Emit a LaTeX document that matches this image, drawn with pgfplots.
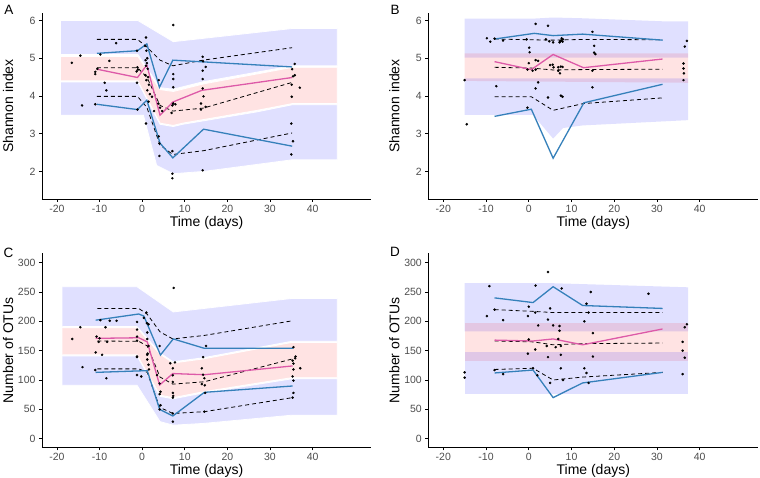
\documentclass[border=0pt]{standalone}
\usepackage{fontspec}
\setmainfont{Liberation Sans}
\usepackage{pgfplots}
\pgfplotsset{compat=1.18}
\definecolor{tickgray}{HTML}{4D4D4D}
\definecolor{obsblue}{HTML}{3580BA}
\definecolor{obspink}{HTML}{DD5AA8}
\pgfplotsset{
  vpc/.style={
    scale only axis, anchor=south west,
    axis x line=bottom, axis y line=left,
    axis line style={-, line width=0.7pt, black},
    tick style={black, line width=0.6pt},
    major tick length=3pt, tick align=outside,
    /pgf/number format/assume math mode=true,
    xmin=-23.5, xmax=53.7,
    xtick={-20,-10,0,10,20,30,40},
    xticklabels={-20,-10,0,10,20,30,40},
    ticklabel style={font=\fontsize{10.5}{12}\selectfont, text=tickgray},
    xticklabel style={inner sep=1pt, yshift=-2pt},
    label style={font=\fontsize{14}{16}\selectfont},
    xlabel={Time (days)},
    clip=true,
  },
  blueband/.style={draw=white, line width=0.8pt, fill=blue, fill opacity=0.12},
  pinkband/.style={draw=white, line width=0.8pt, fill=red, fill opacity=0.11},
  blueband2/.style={draw=none, fill=blue, fill opacity=0.12},
  pinkband2/.style={draw=none, fill=red, fill opacity=0.11},
  obsb/.style={obsblue, line width=1.3pt},
  obsp/.style={obspink, line width=1.3pt},
  pred/.style={black, line width=0.8pt, dash pattern=on 4pt off 3pt},
  pts/.style={only marks, mark=*, mark size=1.05pt, black},
}
\begin{document}
\begin{tikzpicture}
\path[use as bounding box] (0,0) rectangle (760pt,478pt);

% ---------------- A ----------------
\begin{axis}[vpc, at={(42pt,279pt)}, width=329pt, height=186pt,
  ymin=1.27, ymax=6.2, ytick={2,3,4,5,6}, yticklabels={2,3,4,5,6},
  ylabel={Shannon index},
  ylabel style={at={(axis description cs:-0.103,0.5)}, anchor=center},
  xlabel style={at={(axis description cs:0.5,-0.09)}, anchor=north, inner sep=0pt}]
\addplot[blueband] coordinates {(-19,6.0)(-1,6.0)(7.3,5.44)(35.3,5.79)(45.8,5.79)(45.8,4.80)(35.3,4.80)(14.4,4.38)(7.3,4.18)(4.2,4.22)(-1,5.1)(-19,5.1)};
\addplot[pinkband] coordinates {(-19,5.05)(-1,5.05)(4.2,4.17)(7.3,4.12)(14.4,4.32)(35.3,4.76)(45.8,4.76)(45.8,3.80)(35.3,3.80)(27,3.62)(9.5,3.28)(7.3,3.22)(4.2,3.28)(-1,4.4)(-19,4.4)};
\addplot[blueband] coordinates {(-19,4.37)(-1,4.37)(4.2,3.25)(7.3,3.19)(9.5,3.25)(27,3.58)(35.3,3.77)(45.8,3.77)(45.8,2.31)(35.3,2.31)(14.4,2.0)(7.3,1.94)(3.4,2.16)(0.3,3.49)(-19,3.49)};
\addplot[pred] coordinates {(-10.6,5.5)(-1.1,5.5)(1.1,5.3)(4.2,4.95)(7.2,4.8)(14.3,4.95)(35.2,5.28)};
\addplot[pred] coordinates {(-10.6,4.75)(-1.1,4.75)(1.1,4.5)(4.2,3.75)(7.2,3.6)(14.4,3.68)(35.2,4.36)};
\addplot[pred] coordinates {(-10.6,3.99)(-1.1,3.99)(1.1,3.7)(4.2,2.7)(7.2,2.45)(14.4,2.55)(35.2,3.02)};
\addplot[obsb] coordinates {(-10.6,5.13)(-1.1,5.2)(1.1,5.38)(4.05,4.23)(7.2,4.95)(35.2,4.77)};
\addplot[obsb] coordinates {(-10.6,3.78)(-1.1,3.64)(1.1,3.89)(4.2,2.75)(7.2,2.36)(14.4,3.12)(35.2,2.67)};
\addplot[obsp] coordinates {(-10.6,4.71)(-1.1,4.49)(1.1,4.82)(4.2,3.49)(7.2,3.84)(14,4.15)(35.2,4.49)};
\addplot[pts] coordinates {(-16.5,4.88)(-14.5,5.07)(-14.1,3.75)(-11,3.78)(-11,4.64)(-11,4.58)(-10.5,4.72)(-9.8,5.1)(-8.8,4.35)(-8.4,4.15)(-7.7,4.93)(-6.1,5.4)(-1.2,5.2)(-1.1,4.76)(-1.0,4.7)(-1.3,4.65)(-1.2,4.35)(-1.1,3.64)(0.9,5.55)(0.7,5.33)(1.0,5.2)(1.2,5.0)(0.8,4.95)(1.1,4.87)(0.9,4.8)(1.3,4.72)(0.8,4.55)(1.4,4.5)(1.0,4.42)(1.6,4.3)(1.2,4.15)(1.8,4.05)(2.3,3.98)(1.5,3.85)(0.9,3.27)(2.8,3.6)(3.9,2.93)(4.05,2.74)(4.05,2.41)(3.9,4.42)(4.2,3.69)(4.7,3.6)(3.8,3.8)(7.1,2.54)(7.1,1.94)(7.1,1.82)(7.3,5.88)(7.3,4.58)(7.3,4.45)(7.3,4.23)(7.1,3.75)(7.3,3.8)(7.8,3.78)(6.9,3.55)(14.2,5.04)(14.3,4.92)(14.9,4.77)(14.2,4.67)(14.2,4.45)(14.2,4.2)(14.4,3.99)(13.8,3.8)(14.9,3.71)(13.8,3.64)(14.2,2.03)(35.8,4.85)(35.2,4.71)(35.8,4.55)(35.4,4.52)(35.1,4.3)(37,4.22)(35.1,3.98)(35,3.27)(35.4,2.8)(35,2.45)};
\end{axis}

% ---------------- B ----------------
\begin{axis}[vpc, at={(428.3pt,279pt)}, width=330pt, height=186pt,
  ymin=1.27, ymax=6.2, ytick={2,3,4,5,6}, yticklabels={2,3,4,5,6},
  ylabel={Shannon index},
  ylabel style={at={(axis description cs:-0.103,0.5)}, anchor=center},
  xlabel style={at={(axis description cs:0.5,-0.09)}, anchor=north, inner sep=0pt}]
\addplot[blueband2] coordinates {(-15,6.05)(1,6.05)(5.7,6.08)(12.6,6.06)(31.3,5.98)(37.3,5.98)(37.3,5.02)(-15,5.02)};
\addplot[pinkband2] coordinates {(-15,5.13)(37.3,5.13)(37.3,4.35)(-15,4.4)};
\addplot[blueband2] coordinates {(-15,4.47)(37.3,4.47)(37.3,3.36)(12.6,3.22)(8,3.15)(5.7,2.87)(1,3.5)(-15,3.5)};
\addplot[pred] coordinates {(-8,5.51)(0.6,5.49)(5.7,5.48)(12.8,5.5)(31.3,5.49)};
\addplot[pred] coordinates {(-8,4.76)(0.6,4.74)(5.7,4.69)(12.8,4.7)(31.3,4.71)};
\addplot[pred] coordinates {(-8,3.98)(0.6,3.98)(5.7,3.62)(12.8,3.8)(31.3,3.95)};
\addplot[obsb] coordinates {(-8,5.51)(1.3,5.66)(5.7,5.6)(12.6,5.64)(31.3,5.48)};
\addplot[obsb] coordinates {(-8,3.46)(0.6,3.65)(5.7,2.35)(12.9,3.82)(31.3,4.31)};
\addplot[obsp] coordinates {(-8,4.91)(0.6,4.7)(5.7,5.1)(12.8,4.75)(31.3,4.98)};
\addplot[pts] coordinates {(-15,4.42)(-14.5,3.25)(-9.8,5.53)(-9,5.44)(-6,5.47)(-7.6,4.26)(1.6,5.91)(4.5,5.86)(0.1,5.28)(0.2,5.16)(0,4.87)(1.6,4.95)(2.2,4.93)(-0.3,4.7)(1.6,4.7)(0.9,4.67)(5.6,4.83)(4.8,5.45)(5.7,5.42)(5,4.82)(5.8,4.76)(6.9,4.76)(7.5,4.78)(6.9,4.67)(1.6,4.2)(2.2,4.36)(4.5,3.96)(7.5,4.01)(-0.3,3.69)(7.3,5.45)(7.6,5.47)(7.2,5.42)(7.7,5.53)(7.9,5.44)(14.9,5.7)(15.3,5.33)(15.3,5.15)(15.6,5.11)(7.9,4.77)(7.3,4.6)(14.9,4.67)(14.9,4.23)(7.9,3.98)(37,5.46)(36.5,5.31)(36.2,4.86)(36.2,4.73)(36.3,4.6)(36.2,4.42)(-8,5.52)(-0.5,5.5)(4.0,5.5)(8,5.5)};
\end{axis}

% ---------------- C ----------------
\begin{axis}[vpc, at={(42pt,30.7pt)}, width=329pt, height=194pt,
  ymin=-14.7, ymax=316, ytick={0,50,100,150,200,250,300}, yticklabels={0,50,100,150,200,250,300},
  ylabel={Number of OTUs},
  ylabel style={at={(axis description cs:-0.103,0.5)}, anchor=center},
  xlabel style={at={(axis description cs:0.5,-0.086)}, anchor=north, inner sep=0pt}]
\addplot[blueband] coordinates {(-18.7,259)(-1.2,259)(7.3,216)(35.1,239)(45.8,239)(45.8,166)(35.1,166)(14.4,138)(7.3,131)(4.2,146)(-1.2,191)(-18.7,191)};
\addplot[pinkband] coordinates {(-18.7,189)(-1.2,189)(4.2,144)(7.3,129)(14.4,136)(35.1,164)(45.8,164)(45.8,104)(35.1,104)(14.4,80)(7.3,70)(4.2,74)(-1.2,143)(-18.7,143)};
\addplot[blueband] coordinates {(-18.7,141)(-1.2,141)(4.2,72)(7.3,68)(14.4,78)(35.1,102)(45.8,102)(45.8,40)(35.1,40)(14.4,26)(7.3,23)(4.2,29)(-1.2,91)(-18.7,91)};
\addplot[pred] coordinates {(-10.5,222)(-0.8,222)(1.2,212)(4.2,182)(7.2,170)(14.6,176)(35.3,201)};
\addplot[pred] coordinates {(-10.5,166.5)(-0.8,166)(1.2,158)(4.2,105)(7.2,93)(14.6,97)(35.3,136)};
\addplot[pred] coordinates {(-10.5,119)(-0.8,119)(1.2,113)(4.1,53.5)(7.2,43)(14.6,46)(35.3,70)};
\addplot[obsb] coordinates {(-10.9,202)(-0.8,212.5)(0.4,209)(4.3,142.6)(7.3,170)(14.6,154)(35.5,154)};
\addplot[obsb] coordinates {(-10.9,113)(1.2,116)(4.1,50)(7.2,38.7)(14.6,79)(35.3,89.8)};
\addplot[obsp] coordinates {(-10.9,171)(-0.8,172)(1.2,165)(4.1,91.5)(7.2,111)(14.6,109)(35.3,124)};
\addplot[pts] coordinates {(-16.4,170)(-14.5,190)(-14,122)(-10.7,174)(-10,171)(-9.8,202)(-7.6,201)(-6,201)(-8.6,190)(-10.9,147)(-9.4,143)(-10.2,165)(-8.2,165)(-11,117)(-8.4,103)(-1.2,199)(-1.2,186)(-1.2,174)(-1.2,167)(-1.2,140)(-1.2,139)(-1.2,108.5)(-0.2,106)(1,215)(0.4,206)(1.1,197)(1.5,195)(1.2,181)(1.2,170)(1.5,158)(1.3,145)(1.2,143)(1.2,135)(1.5,126)(1.6,118)(3.5,108.5)(4.1,158)(4.1,94)(4.3,80)(4.1,76)(4.3,57)(4.1,50)(7.4,257)(6.6,128.5)(7.2,120)(7.2,108)(7.2,96.7)(7.2,78)(7.3,73)(7.2,70)(7.7,130)(7.2,43)(7.2,29)(14,120)(14.3,109)(14.6,103)(14,93)(14.7,91)(14.8,78)(14.6,46)(15,158)(14.3,139)(35.3,133)(35.5,128)(35.5,118)(35.3,106)(35.5,99)(35.5,78)(35.3,70)(37.1,120)(36,140)(35.5,156)(35.9,137)};
\end{axis}

% ---------------- D ----------------
\begin{axis}[vpc, at={(428.3pt,30.7pt)}, width=330pt, height=194pt,
  ymin=-14.7, ymax=316, ytick={0,50,100,150,200,250,300}, yticklabels={0,50,100,150,200,250,300},
  ylabel={Number of OTUs},
  ylabel style={at={(axis description cs:-0.103,0.5)}, anchor=center},
  xlabel style={at={(axis description cs:0.5,-0.086)}, anchor=north, inner sep=0pt}]
\addplot[blueband2] coordinates {(-15,265)(5.7,265)(37.3,258)(37.3,183)(-15,183)};
\addplot[pinkband2] coordinates {(-15,197)(37.3,197)(37.3,133)(-15,133)};
\addplot[blueband2] coordinates {(-15,148)(37.3,148)(37.3,76)(-15,76)};
\addplot[pred] coordinates {(-8,220)(1,217)(5.7,215)(12.6,215)(31.3,215)};
\addplot[pred] coordinates {(-8,166.5)(1,165)(5.7,160)(12.6,162)(31.3,163)};
\addplot[pred] coordinates {(-8,118)(1,120)(5.7,100)(12.6,105)(31.3,113)};
\addplot[obsb] coordinates {(-8,240)(1,232)(5.7,259)(12.6,227)(31.3,222)};
\addplot[obsb] coordinates {(-8,112)(1,117)(5.7,70)(12.6,95)(31.3,113)};
\addplot[obsp] coordinates {(-8,168)(1,166.5)(5.7,170)(12.6,160)(31.3,187)};
\addplot[pts] coordinates {(-15,113)(-15,104)(-9.2,260)(-9.8,209)(-6,202)(-8,220)(-0.2,209)(0,225)(1.6,261)(4.5,284)(7.7,256)(1.5,215)(5,222)(2.2,193)(4.5,203)(5.7,193)(7.2,192)(7.2,184)(6.9,170)(-0.2,145)(1.5,152)(0,169)(4.2,158)(4.5,139)(6.3,156)(7.5,158)(7.5,143)(-8,117)(-6,110)(1,120)(2,108)(5,95)(7.5,120)(8,100)(14.5,250)(14,215)(13.5,230)(13,200)(15,180)(15,140)(13,120)(14,95)(13.5,112)(28,247)(37,195)(36.5,190)(36,165)(36,150)(36.5,138)(36,110)};
\end{axis}

\node[font=\fontsize{13.5}{15}\selectfont, anchor=center] at (9pt,468.5pt) {A};
\node[font=\fontsize{13.5}{15}\selectfont, anchor=center] at (395pt,468pt) {B};
\node[font=\fontsize{13.5}{15}\selectfont, anchor=center] at (8.5pt,225.3pt) {C};
\node[font=\fontsize{13.5}{15}\selectfont, anchor=center] at (395pt,226pt) {D};
\end{tikzpicture}
\end{document}
